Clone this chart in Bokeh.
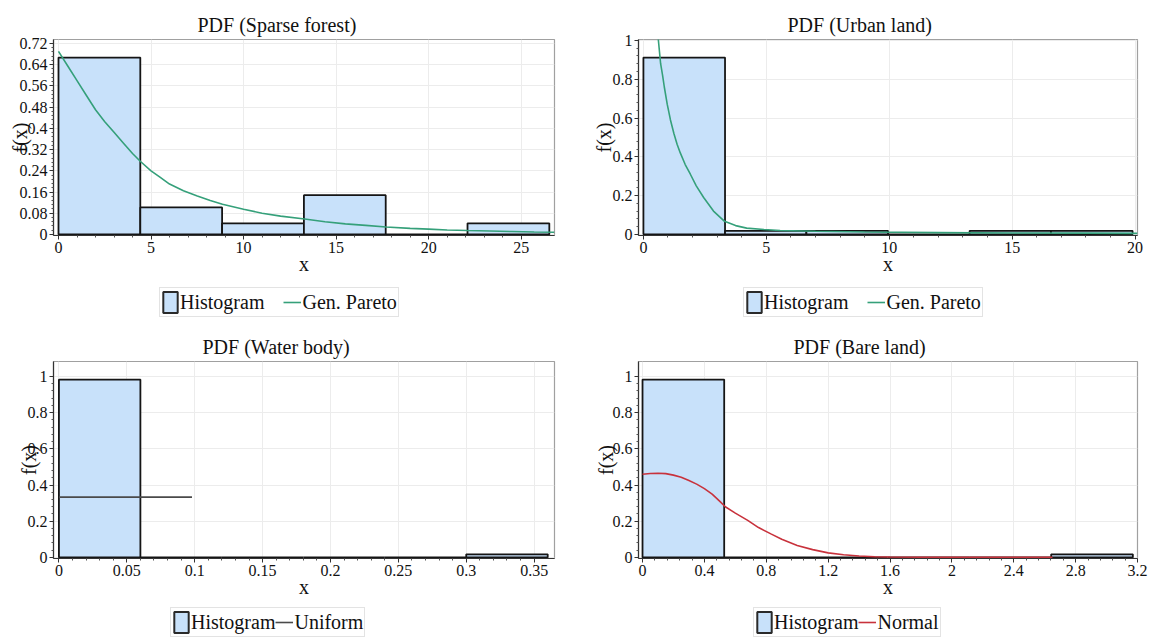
import numpy as np
from bokeh.plotting import figure
from bokeh.layouts import column, row
from bokeh.models import Range1d, FixedTicker, CustomJSTickFormatter, Legend, LegendItem
from bokeh.embed import file_html
from bokeh.resources import INLINE

FONT = "Liberation Serif"

# ---------------- data ----------------
# Sparse forest
sf_edges = [0, 4.42, 8.84, 13.26, 17.68, 22.1, 26.52]
sf_heights = [0.667, 0.102, 0.042, 0.148, 0.0, 0.042]
sf_fit_x = [0, 0.5, 1, 1.5, 2, 2.5, 3, 3.5, 4, 4.43, 5, 5.5, 6, 6.75, 7.5, 8.2, 8.86, 10, 11, 12, 13.3, 14.4, 15.5, 16.6, 17.7, 19, 20, 21, 22.1, 23.3, 24.5, 25.7, 26.8]
sf_fit_y = [0.69, 0.635, 0.58, 0.525, 0.47, 0.425, 0.385, 0.345, 0.305, 0.275, 0.24, 0.215, 0.19, 0.165, 0.145, 0.128, 0.114, 0.095, 0.08, 0.069, 0.058, 0.048, 0.04, 0.034, 0.028, 0.023, 0.02, 0.017, 0.015, 0.013, 0.011, 0.009, 0.008]
sf_xticks = [0, 5, 10, 15, 20, 25]
sf_yticks = [0, 0.08, 0.16, 0.24, 0.32, 0.4, 0.48, 0.56, 0.64, 0.72]

# Urban land
ul_edges = [0, 3.32, 6.63, 9.95, 13.27, 16.58, 19.9]
ul_heights = [0.912, 0.018, 0.018, 0.0, 0.018, 0.018]
ul_fit_x = [0.5, 0.61, 0.7, 0.78, 0.85, 0.97, 1.1, 1.24, 1.37, 1.5, 1.7, 1.91, 2.15, 2.45, 2.85, 3.3, 3.75, 4.2, 4.9, 5.56, 7, 9, 12, 15, 18, 20.1]
ul_fit_y = [1.15, 1.0, 0.88, 0.82, 0.76, 0.67, 0.59, 0.52, 0.465, 0.42, 0.36, 0.31, 0.25, 0.19, 0.12, 0.067, 0.045, 0.032, 0.025, 0.02, 0.016, 0.012, 0.009, 0.007, 0.006, 0.005]
ul_xticks = [0, 5, 10, 15, 20]
ul_yticks = [0, 0.2, 0.4, 0.6, 0.8, 1]

# Water body
wb_edges = [0, 0.06, 0.12, 0.18, 0.24, 0.30, 0.36]
wb_heights = [0.983, 0.0, 0.0, 0.0, 0.0, 0.017]
wb_fit_x = [0, 0.098]
wb_fit_y = [0.333, 0.333]
wb_xticks = [0, 0.05, 0.1, 0.15, 0.2, 0.25, 0.3, 0.35]
wb_yticks = [0, 0.2, 0.4, 0.6, 0.8, 1]

# Bare land
bl_edges = [0, 0.528, 1.057, 1.585, 2.113, 2.642, 3.17]
bl_heights = [0.983, 0.0, 0.0, 0.0, 0.0, 0.017]
bl_fit_x = [0, 0.05, 0.1, 0.15, 0.2, 0.25, 0.3, 0.35, 0.4, 0.45, 0.5, 0.535, 0.6, 0.68, 0.75, 0.83, 0.9, 1.0, 1.1, 1.2, 1.3, 1.4, 1.5, 1.6, 1.8, 2.0, 2.65]
bl_fit_y = [0.46, 0.464, 0.465, 0.463, 0.455, 0.443, 0.425, 0.405, 0.38, 0.35, 0.31, 0.28, 0.245, 0.205, 0.165, 0.13, 0.1, 0.066, 0.043, 0.025, 0.015, 0.008, 0.004, 0.002, 0.001, 0.0, 0.0]
bl_xticks = [0, 0.4, 0.8, 1.2, 1.6, 2, 2.4, 2.8, 3.2]
bl_yticks = [0, 0.2, 0.4, 0.6, 0.8, 1]

BAR_FILL = "#c8e1fa"
BAR_LINE = "#151515"
GREEN = "#35a07a"
RED = "#c8323c"
GREY = "#4a4a4a"

fmt_code = "return String(Math.round(tick * 1e6) / 1e6);"


def minor_of(ticks, n=5):
    out = []
    for a, b in zip(ticks[:-1], ticks[1:]):
        out.extend([float(v) for v in np.linspace(a, b, n + 1)[1:-1]])
    return out


def panel(title, edges, heights, fx, fy, fcolor, xr, yr, xticks, yticks,
          width, height, mbl, mbr, mbt, mbb, ylab_standoff, title_offset):
    p = figure(width=width, height=height, x_range=Range1d(*xr), y_range=Range1d(*yr),
               output_backend="svg", toolbar_location=None, title=title,
               min_border_left=mbl, min_border_right=mbr, min_border_top=mbt,
               min_border_bottom=mbb, background_fill_color="white",
               border_fill_color="white")
    p.title.text_font = FONT
    p.title.text_font_size = "20px"
    p.title.text_font_style = "normal"
    p.title.align = "left"
    p.title.offset = title_offset
    p.title.standoff = 7
    p.title.text_color = "#111111"
    p.outline_line_color = "#a0a0a0"
    p.outline_line_width = 1.2

    p.quad(left=edges[:-1], right=edges[1:], top=heights, bottom=0,
           fill_color=BAR_FILL, line_color=BAR_LINE, line_width=1.8)
    p.line(fx, fy, line_color=fcolor, line_width=1.6)

    for ax, ticks, lab in ((p.xaxis[0], xticks, "x"), (p.yaxis[0], yticks, "f(x)")):
        ax.ticker = FixedTicker(ticks=ticks, minor_ticks=minor_of(ticks))
        ax.formatter = CustomJSTickFormatter(code=fmt_code)
        ax.axis_label = lab
        ax.axis_label_text_font = FONT
        ax.axis_label_text_font_size = "20px"
        ax.axis_label_text_font_style = "normal"
        ax.axis_label_text_color = "#111111"
        ax.major_label_text_font = FONT
        ax.major_label_text_font_size = "16px"
        ax.major_label_text_color = "#111111"
        ax.axis_line_color = "#333333"
        ax.axis_line_width = 1.2
        ax.major_tick_in = 0
        ax.major_tick_out = 4
        ax.minor_tick_in = 0
        ax.minor_tick_out = 2
        ax.major_tick_line_color = "#333333"
        ax.minor_tick_line_color = "#555555"
        ax.major_label_standoff = 2
    p.xaxis.axis_label_standoff = -3
    p.yaxis.axis_label_standoff = ylab_standoff

    p.xgrid.ticker = FixedTicker(ticks=xticks)
    p.ygrid.ticker = FixedTicker(ticks=yticks)
    p.grid.grid_line_color = "#ececec"
    p.grid.grid_line_width = 1
    return p


def legend_fig(width, height, edges, heights, fx, fy, flabel, fcolor, spacing, loc):
    # the legend sits in its own strip; the proxy glyphs use the panel's data but
    # lie outside this strip's (empty) y range, so only the legend is visible
    lf = figure(width=width, height=height, x_range=Range1d(0, 1), y_range=Range1d(10, 11),
                output_backend="svg", toolbar_location=None, min_border=0,
                x_axis_location=None, y_axis_location=None,
                background_fill_color="white", border_fill_color="white")
    lf.outline_line_color = None
    lf.grid.visible = False
    q = lf.quad(left=edges[:-1], right=edges[1:], top=heights, bottom=0,
                fill_color=BAR_FILL, line_color="#2a2a2a", line_width=2)
    ln = lf.line(fx, fy, line_color=fcolor, line_width=1.6)
    leg = Legend(items=[LegendItem(label="Histogram", renderers=[q]),
                        LegendItem(label=flabel, renderers=[ln])],
                 orientation="horizontal", location=loc,
                 label_text_font=FONT, label_text_font_size="20px",
                 label_text_color="#111111",
                 glyph_width=18, glyph_height=26, label_standoff=1,
                 spacing=spacing, padding=1, margin=0,
                 border_line_color="#c8c8c8", border_line_width=1,
                 background_fill_alpha=1.0)
    lf.add_layout(leg)
    return lf


W1, W2 = 575, 573

p1 = panel("PDF (Sparse forest)", sf_edges, sf_heights, sf_fit_x, sf_fit_y, GREEN,
           (-0.27, 26.8), (-0.004, 0.735), sf_xticks, sf_yticks,
           W1, 285, 53, 21, 39, 50, -14, 144)
l1 = legend_fig(W1, 40, sf_edges, sf_heights, sf_fit_x, sf_fit_y, "Gen. Pareto", GREEN, 19, (106, 8))

p2 = panel("PDF (Urban land)", ul_edges, ul_heights, ul_fit_x, ul_fit_y, GREEN,
           (-0.2, 20.1), (-0.006, 1.005), ul_xticks, ul_yticks,
           W2, 285, 63, 11, 39, 50, -5, 149)
l2 = legend_fig(W2, 40, ul_edges, ul_heights, ul_fit_x, ul_fit_y, "Gen. Pareto", GREEN, 19, (105, 8))

p3 = panel("PDF (Water body)", wb_edges, wb_heights, wb_fit_x, wb_fit_y, GREY,
           (-0.004, 0.365), (-0.006, 1.083), wb_xticks, wb_yticks,
           W1, 282, 53, 21, 36, 49, -15, 149)
l3 = legend_fig(W1, 31, wb_edges, wb_heights, wb_fit_x, wb_fit_y, "Uniform", GREY, 0, (117, 1))

p4 = panel("PDF (Bare land)", bl_edges, bl_heights, bl_fit_x, bl_fit_y, RED,
           (-0.026, 3.2), (-0.006, 1.083), bl_xticks, bl_yticks,
           W2, 282, 63, 11, 36, 49, -7, 155)
l4 = legend_fig(W2, 31, bl_edges, bl_heights, bl_fit_x, bl_fit_y, "Normal", RED, 0, (115, 1))

layout = column(row(column(p1, l1), column(p2, l2)),
                row(column(p3, l3), column(p4, l4)))
open("out.html", "w").write(file_html(layout, INLINE))
